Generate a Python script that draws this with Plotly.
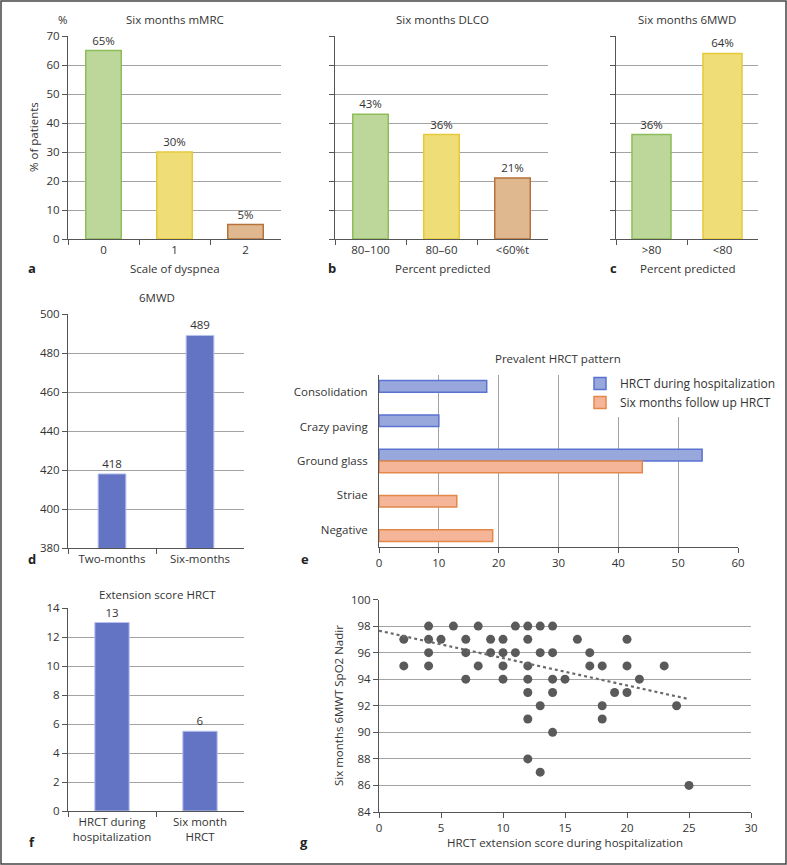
import plotly.graph_objects as go

W, H = 787, 865

# ---------------- data ----------------
mmrc_cats = ["0", "1", "2"]
mmrc_vals = [65, 30, 5]
dlco_cats = ["80–100", "80–60", "<60%t"]
dlco_vals = [43, 36, 21]
mwd_cats = [">80", "<80"]
mwd_vals = [36, 64]
walk_cats = ["Two-months", "Six-months"]
walk_vals = [418, 489]
hrct_patterns = ["Consolidation", "Crazy paving", "Ground glass", "Striae", "Negative"]
hrct_hosp = [18, 10, 54, None, None]
hrct_six = [None, None, 44, 13, 19]
ext_cats = ["HRCT during<br>hospitalization", "Six month<br>HRCT"]
ext_vals = [13, 5.5]
ext_labels = ["13", "6"]
scatter_x = [4, 6, 8, 11, 12, 13, 14,
             2, 4, 5, 7, 9, 10, 12, 16, 20,
             4, 7, 9, 10, 11, 13, 14, 17,
             2, 4, 8, 10, 12, 17, 18, 20, 23,
             7, 10, 12, 14, 15, 21,
             12, 14, 19, 20,
             13, 18, 24,
             12, 18,
             14, 12, 13, 25]
scatter_y = [98] * 7 + [97] * 9 + [96] * 8 + [95] * 9 + [94] * 6 + [93] * 4 + [92] * 3 + [91] * 2 + [90, 88, 87, 86]
trend_x = [0, 25]
trend_y = [97.65, 92.5]

# ---------------- styles ----------------
FONT = "Open Sans, Noto Sans, sans-serif"
TXT = "#333333"
AX = "#555555"
GRID = "#a3a3a3"
GREEN, GREEN_L = "#bdd79b", "#8dbd5a"
YEL, YEL_L = "#efde78", "#e6c93a"
TAN, TAN_L = "#e0b88f", "#b5723a"
BLUE = "#6474c4"


def xd(a, b):
    return [a / W, b / W]


def yd(top, bottom):
    return [1 - bottom / H, 1 - top / H]


def base_axis(**kw):
    d = dict(showline=True, linecolor=AX, linewidth=1, ticks="outside", ticklen=5,
             tickcolor=AX, tickfont=dict(size=11.5, color=TXT, family=FONT),
             zeroline=False, showgrid=False, automargin=False, fixedrange=True)
    d.update(kw)
    return d


fig = go.Figure()

# a
fig.add_trace(go.Bar(x=mmrc_cats, y=mmrc_vals, width=0.5,
                     marker=dict(color=[GREEN, YEL, TAN], line=dict(color=[GREEN_L, YEL_L, TAN_L], width=1.5)),
                     text=[f"{v}%" for v in mmrc_vals], textposition="outside", cliponaxis=False,
                     textfont=dict(size=11.5, color=TXT), xaxis="x", yaxis="y", showlegend=False))
# b
fig.add_trace(go.Bar(x=dlco_cats, y=dlco_vals, width=0.5,
                     marker=dict(color=[GREEN, YEL, TAN], line=dict(color=[GREEN_L, YEL_L, TAN_L], width=1.5)),
                     text=[f"{v}%" for v in dlco_vals], textposition="outside", cliponaxis=False,
                     textfont=dict(size=11.5, color=TXT), xaxis="x2", yaxis="y2", showlegend=False))
# c
fig.add_trace(go.Bar(x=mwd_cats, y=mwd_vals, width=0.55,
                     marker=dict(color=[GREEN, YEL], line=dict(color=[GREEN_L, YEL_L], width=1.5)),
                     text=[f"{v}%" for v in mwd_vals], textposition="outside", cliponaxis=False,
                     textfont=dict(size=11.5, color=TXT), xaxis="x3", yaxis="y3", showlegend=False))
# d
fig.add_trace(go.Bar(x=walk_cats, y=walk_vals, width=0.315,
                     marker=dict(color=BLUE, line=dict(color="#b8c2ee", width=1)),
                     text=[str(v) for v in walk_vals], textposition="outside", cliponaxis=False,
                     textfont=dict(size=11.5, color=TXT), xaxis="x4", yaxis="y4", showlegend=False))
# e
fig.add_trace(go.Bar(y=hrct_patterns, x=hrct_hosp, orientation="h", width=0.34, offset=-0.34,
                     name="HRCT during hospitalization",
                     marker=dict(color="#98a8dc", line=dict(color="#5a72d2", width=1.5)),
                     xaxis="x5", yaxis="y5"))
fig.add_trace(go.Bar(y=hrct_patterns, x=hrct_six, orientation="h", width=0.34, offset=0,
                     name="Six months follow up HRCT",
                     marker=dict(color="#f5b599", line=dict(color="#e4884a", width=1.5)),
                     xaxis="x5", yaxis="y5"))
# f
fig.add_trace(go.Bar(x=ext_cats, y=ext_vals, width=0.39,
                     marker=dict(color=BLUE, line=dict(color="#b8c2ee", width=1)),
                     text=ext_labels, textposition="outside", cliponaxis=False,
                     textfont=dict(size=11.5, color=TXT), xaxis="x6", yaxis="y6", showlegend=False))
# g
fig.add_trace(go.Scatter(x=scatter_x, y=scatter_y, mode="markers",
                         marker=dict(color="#5a5a5a", size=9), cliponaxis=False,
                         xaxis="x7", yaxis="y7", showlegend=False))
fig.add_trace(go.Scatter(x=trend_x, y=trend_y, mode="lines",
                         line=dict(color="#6a6a6a", width=2.2, dash="dot"),
                         xaxis="x7", yaxis="y7", showlegend=False))

cat_x = dict(type="category", tickson="boundaries")

fig.update_layout(
    width=W, height=H, template="none",
    margin=dict(l=0, r=0, t=0, b=0, autoexpand=False),
    paper_bgcolor="white", plot_bgcolor="white",
    font=dict(family=FONT, size=11.5, color=TXT),
    barmode="overlay",
    # a
    xaxis=base_axis(domain=xd(68, 281), anchor="y", **cat_x),
    yaxis=base_axis(domain=yd(36, 239), anchor="x", range=[0, 70], dtick=10,
                    showgrid=True, gridcolor=GRID, gridwidth=1),
    # b
    xaxis2=base_axis(domain=xd(335, 548), anchor="y2", **cat_x),
    yaxis2=base_axis(domain=yd(36, 239), anchor="x2", range=[0, 70], dtick=10,
                     showgrid=True, gridcolor=GRID, showticklabels=False),
    # c
    xaxis3=base_axis(domain=xd(616, 758), anchor="y3", **cat_x),
    yaxis3=base_axis(domain=yd(36, 239), anchor="x3", range=[0, 70], dtick=10,
                     showgrid=True, gridcolor=GRID, showticklabels=False),
    # d
    xaxis4=base_axis(domain=xd(68, 244), anchor="y4", **cat_x),
    yaxis4=base_axis(domain=yd(314, 548), anchor="x4", range=[380, 500], dtick=20,
                     showgrid=True, gridcolor=GRID),
    # e
    xaxis5=base_axis(domain=xd(379, 738), anchor="y5", range=[0, 60], dtick=10,
                     showgrid=True, gridcolor=GRID),
    yaxis5=base_axis(domain=yd(375, 547), anchor="x5", type="category", autorange="reversed",
                     ticks="", ticklabelstandoff=8),
    # f
    xaxis6=base_axis(domain=xd(68, 244), anchor="y6", **cat_x),
    yaxis6=base_axis(domain=yd(608, 811), anchor="x6", range=[0, 14], dtick=2,
                     showgrid=True, gridcolor=GRID),
    # g
    xaxis7=base_axis(domain=xd(379, 751), anchor="y7", range=[0, 30], dtick=5),
    yaxis7=base_axis(domain=yd(599.5, 812), anchor="x7", range=[84, 100], dtick=2,
                     showgrid=True, gridcolor=GRID),
    legend=dict(x=580 / W, y=1 - 369 / H, xanchor="left", yanchor="top",
                bgcolor="white", borderwidth=0, font=dict(size=12, color=TXT),
                tracegroupgap=0, itemwidth=30),
)


def ann(text, x, y, size=11.5, bold=False, xanchor="center", angle=0):
    if bold:
        text = f"<b>{text}</b>"
    fig.add_annotation(text=text, x=x / W, y=1 - y / H, xref="paper", yref="paper",
                       showarrow=False, xanchor=xanchor, yanchor="middle", textangle=angle,
                       font=dict(size=size, color="#222222" if bold else TXT, family=FONT))


# titles
ann("Six months mMRC", 175, 19)
ann("%", 63, 19)
ann("Six months DLCO", 442, 19)
ann("Six months 6MWD", 687, 19)
ann("% of patients", 34, 137, angle=-90)
ann("Scale of dyspnea", 175, 268)
ann("Percent predicted", 442, 268)
ann("Percent predicted", 687, 268)
ann("6MWD", 157, 298)
ann("Prevalent HRCT pattern", 558, 358)
ann("Extension score HRCT", 157, 594)
ann("HRCT extension score during hospitalization", 565, 842)
ann("Six months 6MWT SpO2 Nadir", 338, 706, angle=-90)
# panel letters
for letter, x, y in [("a", 32, 268), ("b", 332, 268), ("c", 613, 268), ("d", 32, 559),
                     ("e", 305, 559), ("f", 32, 842), ("g", 304, 842)]:
    ann(letter, x, y, size=13, bold=True)

# outer frame
fig.add_shape(type="rect", xref="paper", yref="paper",
              x0=1 / W, x1=1 - 1 / W, y0=1 / H, y1=1 - 1 / H,
              line=dict(color="#444444", width=1.5), layer="above")

fig.write_html("out.html", config={"displayModeBar": False},
               post_script="document.body.style.margin='0';document.body.style.padding='0';")
